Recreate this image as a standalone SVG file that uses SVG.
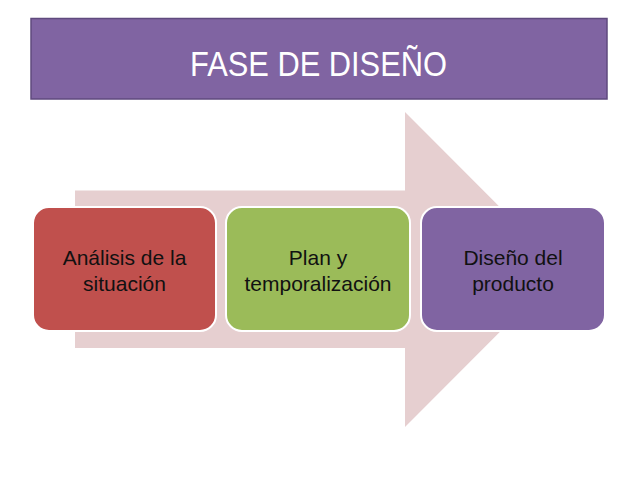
<svg xmlns="http://www.w3.org/2000/svg" width="638" height="479" viewBox="0 0 638 479">
<style>
.box{stroke:#ffffff;stroke-width:2}
.lbl{font-family:"Liberation Sans",Arial,sans-serif;font-size:21px;fill:#111111;text-anchor:middle}
.title{font-family:"Liberation Sans",Arial,sans-serif;font-size:35px;fill:#ffffff;text-anchor:middle}
</style>
<rect width="638" height="479" fill="#ffffff"/>
<g id="title">
<rect x="31" y="18.5" width="576" height="80.5" fill="#8064a2" stroke="#5f4a7e" stroke-width="1.5"/>
<text class="title" x="318.5" y="76" textLength="257" lengthAdjust="spacingAndGlyphs">FASE DE DISEÑO</text>
</g>
<g id="connectors">
<path d="M75 190.5 H405 V112 L562 269.5 L405 427 V348 H75 Z" fill="#e6cfd0"/>
</g>
<g id="node1">
<rect class="box" x="33" y="207" width="183" height="124" rx="16" fill="#c0504d"/>
<text class="lbl" x="124.5" y="265">Análisis de la</text>
<text class="lbl" x="124.5" y="291">situación</text>
</g>
<g id="node2">
<rect class="box" x="226" y="207" width="184" height="124" rx="16" fill="#9bbb59"/>
<text class="lbl" x="318" y="265">Plan y</text>
<text class="lbl" x="318" y="291">temporalización</text>
</g>
<g id="node3">
<rect class="box" x="421" y="207" width="184" height="124" rx="16" fill="#8064a2"/>
<text class="lbl" x="513" y="265">Diseño del</text>
<text class="lbl" x="513" y="291">producto</text>
</g>
</svg>
